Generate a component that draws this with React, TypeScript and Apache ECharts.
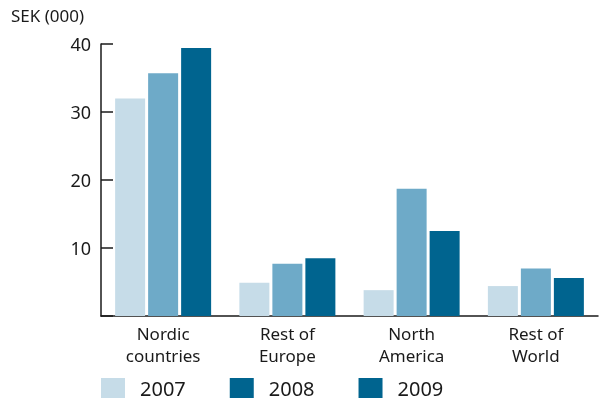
import React, { useEffect, useRef } from "react";
import * as echarts from "echarts";

const categories = ["Nordic\ncountries", "Rest of\nEurope", "North\nAmerica", "Rest of\nWorld"];
const years = ["2007", "2008", "2009"];
const values2007 = [32.0, 4.9, 3.8, 4.4];
const values2008 = [35.7, 7.7, 18.7, 7.0];
const values2009 = [39.4, 8.5, 12.5, 5.6];
const seriesColors = ["#c6dce8", "#6eaac8", "#00648f"];
const legendColors = ["#c6dce8", "#00648f", "#00648f"];
const yTicks = { min: 0, max: 40, interval: 10 };

const FONT = "'Noto Sans', sans-serif";

export default function App() {
  const ref = useRef<HTMLDivElement>(null);
  useEffect(() => {
    if (!ref.current) return;
    const chart = echarts.init(ref.current, undefined, { renderer: "svg" });
    const data = [values2007, values2008, values2009];
    chart.setOption({
      animation: false,
      textStyle: { fontFamily: FONT },
      title: {
        text: "SEK (000)",
        left: 11,
        top: 7,
        padding: 0,
        textStyle: { fontSize: 17, fontWeight: "normal", color: "#1a1a1a", fontFamily: FONT },
      },
      legend: {
        left: 101,
        top: 378,
        padding: 0,
        itemWidth: 24,
        itemHeight: 20,
        itemGap: 44,
        icon: "rect",
        textStyle: { fontSize: 20, lineHeight: 20, color: "#1a1a1a", padding: [0, 0, 0, 10], fontFamily: FONT },
        data: years.map((y, i) => ({ name: y, itemStyle: { color: legendColors[i] } })),
      },
      grid: { left: 101, right: 2, top: 44, bottom: 85 },
      xAxis: {
        type: "category",
        data: categories,
        axisLine: { lineStyle: { color: "#1a1a1a", width: 1.5 } },
        axisTick: { show: false },
        axisLabel: { interval: 0, fontSize: 17, color: "#1a1a1a", lineHeight: 22, margin: 6, fontFamily: FONT },
      },
      yAxis: {
        type: "value",
        min: yTicks.min,
        max: yTicks.max,
        interval: yTicks.interval,
        splitLine: { show: false },
        axisLine: { show: true, lineStyle: { color: "#1a1a1a", width: 1.5 } },
        axisTick: { show: true, inside: true, length: 12, lineStyle: { color: "#1a1a1a", width: 1.5 } },
        axisLabel: {
          fontSize: 18,
          color: "#1a1a1a",
          margin: 10,
          fontFamily: FONT,
          formatter: (v: number) => (v === 0 ? "" : String(v)),
        },
      },
      series: years.map((y, i) => ({
        name: y,
        type: "bar",
        data: data[i],
        barWidth: 30,
        barGap: "10%",
        itemStyle: { color: seriesColors[i] },
      })),
    });
    return () => chart.dispose();
  }, []);
  return <div ref={ref} style={{ position: "fixed", left: 0, top: 0, width: 600, height: 401 }} />;
}
